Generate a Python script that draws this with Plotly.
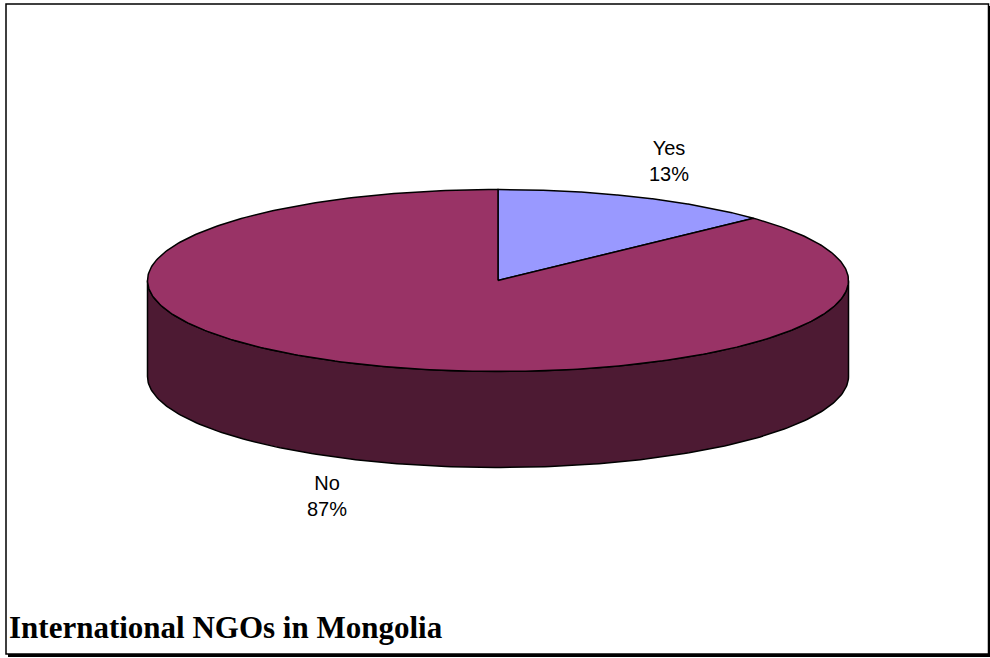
import numpy as np
import plotly.graph_objects as go

# ---- data ----
categories = ["Yes", "No"]
values = [13, 87]
top_colors = ["#9999FF", "#993366"]
side_colors = ["#4D4D80", "#4D1A33"]
title_text = "International NGOs in Mongolia"

# ---- geometry (pixel space) ----
W, H = 990, 658
cx, cy = 498, 280.5
a, b = 350.5, 91
depth = 96
label_ra, label_rb = 430, 130

def ell(theta_deg, dy=0.0):
    t = np.radians(theta_deg)
    return cx + a * np.sin(t), cy - b * np.cos(t) + dy

fig = go.Figure()
total = float(sum(values))
starts, ends = [], []
acc = 0.0
for v in values:
    starts.append(acc / total * 360)
    acc += v
    ends.append(acc / total * 360)

# side walls (visible front: 90..270 deg measured clockwise from top)
for i in range(len(values)):
    s, e = max(starts[i], 90), min(ends[i], 270)
    if e <= s:
        continue
    th = np.linspace(s, e, 200)
    xt, yt = ell(th)
    xb, yb = ell(th[::-1], depth)
    xs = np.concatenate([xt, xb, xt[:1]])
    ys = np.concatenate([yt, yb, yt[:1]])
    fig.add_trace(go.Scatter(x=xs, y=ys, mode="lines", fill="toself",
                             fillcolor=side_colors[i],
                             line=dict(color="black", width=1.5),
                             hoverinfo="skip", showlegend=False))

# top faces
for i in range(len(values)):
    th = np.linspace(starts[i], ends[i], 400)
    xt, yt = ell(th)
    xs = np.concatenate([[cx], xt, [cx]])
    ys = np.concatenate([[cy], yt, [cy]])
    fig.add_trace(go.Scatter(x=xs, y=ys, mode="lines", fill="toself",
                             fillcolor=top_colors[i],
                             line=dict(color="black", width=1.5),
                             hoverinfo="skip", showlegend=False))

# labels
annotations = []
for i, cat in enumerate(categories):
    mid = np.radians((starts[i] + ends[i]) / 2)
    lx = cx + label_ra * np.sin(mid)
    ly = cy - label_rb * np.cos(mid)
    if np.cos(mid) < 0:
        ly += depth
    pct = round(values[i] / total * 100)
    annotations.append(dict(x=lx, y=ly, xref="x", yref="y",
                            text=f"{cat}<br>{pct}%", showarrow=False,
                            font=dict(family="Liberation Sans, Arial", size=20, color="black")))

annotations.append(dict(x=7, y=627, xref="x", yref="y", xanchor="left", yanchor="middle",
                        text=f"<b>{title_text}</b>", showarrow=False,
                        font=dict(family="Liberation Serif, Times New Roman", size=31, color="black")))

shapes = [
    dict(type="rect", xref="x", yref="y", x0=6, y0=4, x1=988.5, y1=654,
         line=dict(color="black", width=1.5)),
    dict(type="line", xref="x", yref="y", x0=8, y0=655.5, x1=990, y1=655.5,
         line=dict(color="black", width=3)),
    dict(type="line", xref="x", yref="y", x0=989.5, y0=6, x1=989.5, y1=656,
         line=dict(color="black", width=2)),
]

fig.update_layout(
    width=W, height=H,
    margin=dict(l=0, r=0, t=0, b=0),
    paper_bgcolor="white", plot_bgcolor="white",
    xaxis=dict(range=[0, W], visible=False, fixedrange=True),
    yaxis=dict(range=[H, 0], visible=False, fixedrange=True),
    annotations=annotations,
    shapes=shapes,
    showlegend=False,
)

fig.write_html("out.html", config={"displayModeBar": False},
               post_script="document.body.style.margin='0';document.body.style.overflow='hidden';")
